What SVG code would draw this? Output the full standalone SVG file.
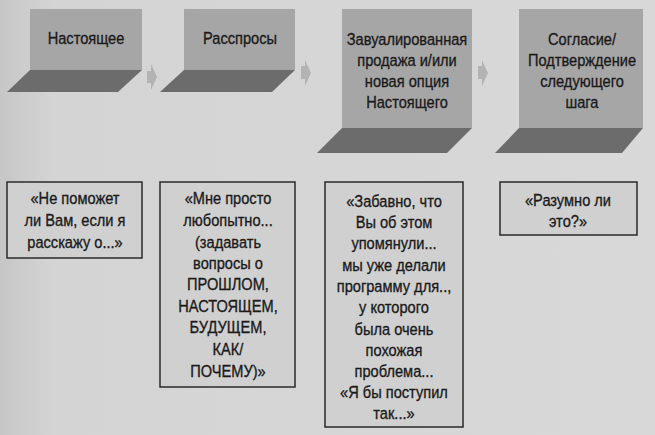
<svg xmlns="http://www.w3.org/2000/svg" width="655" height="435" viewBox="0 0 655 435">
<defs>
<linearGradient id="page" x1="0" y1="0" x2="1" y2="0">
<stop offset="0" stop-color="#c6c6c6"/>
<stop offset="0.08" stop-color="#d4d4d4"/>
<stop offset="1" stop-color="#d8d8d8"/>
</linearGradient>
<style>
.face{fill:#a6a6a6}
.floor{fill:#6c6c6c}
.box{fill:#d0d0d0;stroke:#2a2a2a;stroke-width:1.5}
.arrow{fill:#b3b3b3}
text{font-family:"Liberation Sans",Arial,sans-serif;font-size:17px;fill:#1a1a1a;stroke:#1a1a1a;stroke-width:0.35;text-anchor:middle}
</style>
</defs>
<rect width="655" height="435" fill="url(#page)"/>
<g id="connectors">
<polygon class="arrow" points="147,71 151,71 151,64 157,77 151,90 151,83 147,83"/>
<polygon class="arrow" points="301,66 305,66 305,60 311,73 305,86 305,79 301,79"/>
<polygon class="arrow" points="478,66 482,66 482,60 488,73 482,86 482,79 478,79"/>
</g>
<g id="step1">
<rect class="face" x="30" y="9" width="112" height="61"/>
<polygon class="floor" points="30,70 142,70 118,92 7,92"/>
<text transform="translate(86 44) scale(0.86 1)">Настоящее</text>
</g>
<g id="step2">
<rect class="face" x="184" y="9" width="111" height="61"/>
<polygon class="floor" points="184,70 295,70 272,92 160,92"/>
<text transform="translate(240 44) scale(0.86 1)">Расспросы</text>
</g>
<g id="step3">
<rect class="face" x="342" y="9" width="130" height="119"/>
<polygon class="floor" points="342,128 472,128 447,153 317,153"/>
<text transform="translate(407 45) scale(0.86 1)">Завуалированная</text>
<text transform="translate(407 66) scale(0.86 1)">продажа и/или</text>
<text transform="translate(407 87) scale(0.86 1)">новая опция</text>
<text transform="translate(407 108) scale(0.86 1)">Настоящего</text>
</g>
<g id="step4">
<rect class="face" x="519" y="9" width="124" height="119"/>
<polygon class="floor" points="519,128 643,128 622,153 495,153"/>
<text transform="translate(582 45) scale(0.86 1)">Согласие/</text>
<text transform="translate(582 66) scale(0.86 1)">Подтверждение</text>
<text transform="translate(582 87) scale(0.86 1)">следующего</text>
<text transform="translate(582 108) scale(0.86 1)">шага</text>
</g>
<g id="phrase1">
<rect class="box" x="7" y="182" width="135" height="76"/>
<text transform="translate(75 204) scale(0.86 1)">«Не поможет</text>
<text transform="translate(75 226) scale(0.86 1)">ли Вам, если я</text>
<text transform="translate(75 248) scale(0.86 1)">расскажу о...»</text>
</g>
<g id="phrase2">
<rect class="box" x="160" y="182" width="135" height="205"/>
<text transform="translate(228 204) scale(0.86 1)">«Мне просто</text>
<text transform="translate(228 226) scale(0.86 1)">любопытно...</text>
<text transform="translate(228 248) scale(0.86 1)">(задавать</text>
<text transform="translate(228 269) scale(0.86 1)">вопросы о</text>
<text transform="translate(228 290) scale(0.86 1)">ПРОШЛОМ,</text>
<text transform="translate(228 312) scale(0.86 1)">НАСТОЯЩЕМ,</text>
<text transform="translate(228 333) scale(0.86 1)">БУДУЩЕМ,</text>
<text transform="translate(228 355) scale(0.86 1)">КАК/</text>
<text transform="translate(228 377) scale(0.86 1)">ПОЧЕМУ)»</text>
</g>
<g id="phrase3">
<rect class="box" x="325" y="182" width="138" height="245"/>
<text transform="translate(394 207) scale(0.86 1)">«Забавно, что</text>
<text transform="translate(394 228) scale(0.86 1)">Вы об этом</text>
<text transform="translate(394 249) scale(0.86 1)">упомянули...</text>
<text transform="translate(394 271) scale(0.86 1)">мы уже делали</text>
<text transform="translate(394 292) scale(0.86 1)">программу для..,</text>
<text transform="translate(394 313) scale(0.86 1)">у которого</text>
<text transform="translate(394 335) scale(0.86 1)">была очень</text>
<text transform="translate(394 356) scale(0.86 1)">похожая</text>
<text transform="translate(394 377) scale(0.86 1)">проблема...</text>
<text transform="translate(394 398) scale(0.86 1)">«Я бы поступил</text>
<text transform="translate(394 419) scale(0.86 1)">так...»</text>
</g>
<g id="phrase4">
<rect class="box" x="500" y="182" width="137" height="53"/>
<text transform="translate(568 206) scale(0.86 1)">«Разумно ли</text>
<text transform="translate(568 227) scale(0.86 1)">это?»</text>
</g>
</svg>
